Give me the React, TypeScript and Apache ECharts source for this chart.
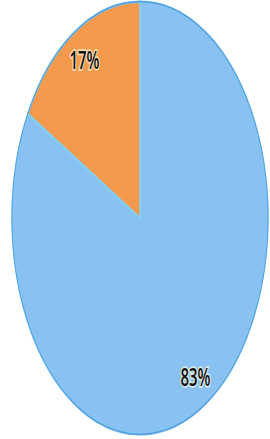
import React, { useEffect, useRef } from "react";
import * as echarts from "echarts";

const categories = ["Blue", "Orange"];
const values = [83, 17];
const labels = ["83%", "17%"];
const colors = ["#88c1f2", "#f59a4c"];

const SCALE_Y = 1.69;

export default function App() {
  const ref = useRef<HTMLDivElement>(null);
  useEffect(() => {
    if (!ref.current) return;
    const chart = echarts.init(ref.current, null, { renderer: "svg" });
    const data = categories.map((c, i) => ({
      name: c,
      value: values[i],
      itemStyle: { color: colors[i] },
      label: { formatter: labels[i] },
    }));
    chart.setOption({
      animation: false,
      series: [
        {
          type: "pie",
          radius: 128,
          center: [140, 129],
          startAngle: 90,
          clockwise: true,
          silent: true,
          label: { show: false },
          labelLine: { show: false },
          itemStyle: { borderColor: "#7fd2f6", borderWidth: 1.5 },
          data,
        },
        {
          type: "pie",
          radius: [0, 128],
          center: [140, 129],
          silent: true,
          label: { show: false },
          labelLine: { show: false },
          itemStyle: { color: "transparent", borderColor: "#5a9fe0", borderWidth: 1 },
          data: [{ name: "edge", value: 1 }],
        },
        {
          type: "pie",
          radius: [84, 128],
          center: [140, 129],
          startAngle: 90,
          clockwise: true,
          silent: true,
          itemStyle: { color: "transparent", borderWidth: 0 },
          labelLine: { show: false },
          label: {
            show: true,
            position: "inside",
            color: "#111",
            fontSize: 15,
            fontFamily: "'Open Sans', sans-serif",
            fontWeight: 600,
            textBorderColor: "rgba(255,250,225,0.7)",
            textBorderWidth: 2,
          },
          data: data.map((d) => ({ ...d, itemStyle: { color: "transparent" } })),
        },
      ],
    });
    return () => chart.dispose();
  }, []);
  return (
    <div style={{ position: "fixed", left: 0, top: 0, width: 270, height: 439, background: "#fff", overflow: "hidden" }}>
      <div
        ref={ref}
        style={{
          width: 270,
          height: 260,
          transform: `scaleY(${SCALE_Y})`,
          transformOrigin: "0 0",
        }}
      />
    </div>
  );
}
